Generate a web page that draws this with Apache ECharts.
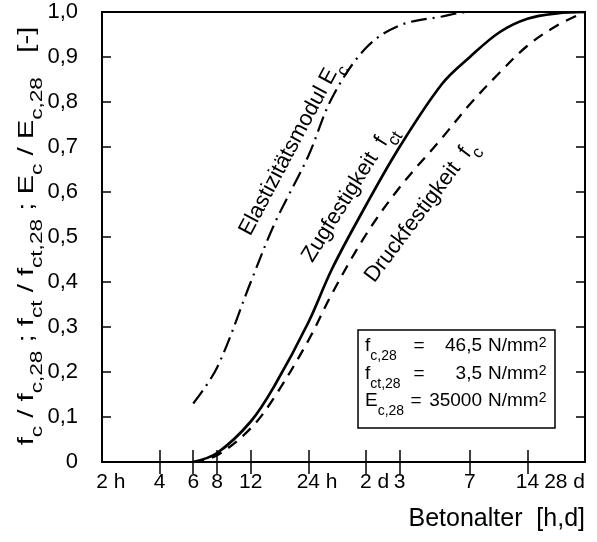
<!DOCTYPE html>
<html>
<head>
<meta charset="utf-8">
<script src="https://cdn.jsdelivr.net/npm/echarts@6/dist/echarts.min.js"></script>
<style>
html, body { margin: 0; padding: 0; background: #fff; }
#chart { width: 597px; height: 542px; }
</style>
</head>
<body>
<div id="chart"></div>
<script>
// Betonalter in Stunden (logarithmische Achse)
const ageHours = [6, 8, 12, 16, 24, 32, 48, 72, 120, 168, 240, 336, 480, 672];
// bezogene Festigkeiten / E-Modul
const fcValues  = [0, 0.015, 0.075, 0.145, 0.27, 0.375, 0.505, 0.61, 0.72, 0.795, 0.865, 0.925, 0.97, 1.0];
const fctValues = [0, 0.02, 0.09, 0.17, 0.31, 0.43, 0.57, 0.70, 0.84, 0.90, 0.955, 0.985, 0.997, 1.0];
const ecValues  = [0.13, 0.21, 0.40, 0.53, 0.68, 0.81, 0.92, 0.97, 0.99, 1.0, 1.0, 1.0, 1.0, 1.0];

// Achsenbeschriftung
const xTickValues = [2, 4, 6, 8, 12, 24, 48, 72, 168, 336, 672];
const xTickLabels = ['2 h', '4', '6', '8', '12', '24 h', '2 d', '3', '7', '14', '28 d'];
const yTickLabels = ['0', '0,1', '0,2', '0,3', '0,4', '0,5', '0,6', '0,7', '0,8', '0,9', '1,0'];

// Kennwerte im Kasten
const boxSymbols = ['f', 'f', 'E'];
const boxSubs = ['c,28', 'ct,28', 'c,28'];
const boxValues = ['46,5', '3,5', '35000'];

const FONT = '"Liberation Sans", Arial, sans-serif';

function pairs (ys) {
    return ageHours.map((h, i) => [h, ys[i]]);
}

function xLabel (v) {
    // naechsten Tickwert suchen (log-Skala liefert evtl. 5.9999)
    let best = 0;
    for (let i = 1; i < xTickValues.length; i++) {
        if (Math.abs(Math.log(xTickValues[i] / v)) < Math.abs(Math.log(xTickValues[best] / v))) best = i;
    }
    const txt = xTickLabels[best];
    const sp = txt.indexOf(' ');
    if (sp > 0 && best < xTickLabels.length - 1) {
        // Zahl mittig auf den Strich, Einheit haengt rechts dran
        return '{g|' + txt.slice(sp) + '}' + txt;
    }
    return txt;
}

// Text-Stile fuer Index / Exponent
const richStyles = {
    t: { fontFamily: FONT, fontSize: 22, lineHeight: 30, verticalAlign: 'top', color: '#000' },
    s: { fontFamily: FONT, fontSize: 17, lineHeight: 17, verticalAlign: 'bottom', color: '#000' },
    b: { fontFamily: FONT, fontSize: 19, lineHeight: 27, verticalAlign: 'top', color: '#000' },
    bs: { fontFamily: FONT, fontSize: 14, lineHeight: 14, verticalAlign: 'bottom', color: '#000' },
    p: { fontFamily: FONT, fontSize: 14, lineHeight: 14, verticalAlign: 'top', color: '#000' }
};

function label (x, y, deg, text, sx) {
    return {
        type: 'text',
        x: x,
        y: y,
        rotation: deg * Math.PI / 180,
        scaleX: sx || 1,
        style: {
            text: text,
            rich: richStyles,
            align: 'center',
            verticalAlign: 'middle',
            fill: '#000'
        },
        z: 10
    };
}

const boxLeft = 358, boxTop = 330, boxRight = 555, boxBottom = 428;
const rowY = [350, 378, 405];
const eqX = [419, 419, 416];

const graphics = [
    // Ordinatentitel (Vorlage ist in der Hoehe gestreckt)
    label(31, 236, 90, '{t|f}{s|c}{t| / f}{s|c,28}{t| ; f}{s|ct}{t| / f}{s|ct,28}{t| ; E}{s|c}{t| / E}{s|c,28}{t|   [-]}', 1.33),
    label(294, 150, 62, '{t|Elastizitätsmodul E}{s|c}'),
    label(352, 196, 58, '{t|Zugfestigkeit  f}{s|ct}'),
    label(424, 214, 53, '{t|Druckfestigkeit  f}{s|c}'),
    {
        type: 'rect',
        shape: { x: boxLeft, y: boxTop, width: boxRight - boxLeft, height: boxBottom - boxTop },
        style: { fill: '#fff', stroke: '#000', lineWidth: 1.5 },
        z: 10
    }
];
rowY.forEach((y, i) => {
    graphics.push({
        type: 'text', x: 365, y: y, z: 11,
        style: { text: '{b|' + boxSymbols[i] + '}{bs|' + boxSubs[i] + '}', rich: richStyles, align: 'left', verticalAlign: 'middle' }
    });
    graphics.push({
        type: 'text', x: eqX[i], y: y, z: 11,
        style: { text: '{b|=}', rich: richStyles, align: 'center', verticalAlign: 'middle' }
    });
    graphics.push({
        type: 'text', x: 482, y: y, z: 11,
        style: { text: '{b|' + boxValues[i] + '}', rich: richStyles, align: 'right', verticalAlign: 'middle' }
    });
    graphics.push({
        type: 'text', x: 488, y: y, z: 11,
        style: { text: '{b|N/mm}{p|2}', rich: richStyles, align: 'left', verticalAlign: 'middle' }
    });
});

const chart = echarts.init(document.getElementById('chart'), null, { renderer: 'canvas' });

const tickCommon = { show: true, inside: true, length: 12, lineStyle: { color: '#000', width: 1.5 }, customValues: xTickValues.slice(1, -1) };

chart.setOption({
    backgroundColor: '#fff',
    animation: false,
    grid: {
        left: 102, right: 12, top: 12, bottom: 80,
        show: true, borderColor: '#000', borderWidth: 2, backgroundColor: 'transparent'
    },
    xAxis: [
        {
            type: 'log', logBase: 2, min: 2, max: 672, position: 'bottom',
            name: 'Betonalter  [h,d]',
            nameLocation: 'end',
            nameGap: 0,
            nameTextStyle: { fontFamily: FONT, fontSize: 25, color: '#000', align: 'right', verticalAlign: 'top', padding: [45, 0, 0, 0] },
            axisLine: { show: false },
            axisTick: tickCommon,
            splitLine: { show: false },
            axisLabel: {
                customValues: xTickValues,
                formatter: xLabel,
                fontFamily: FONT, fontSize: 21, color: '#000', margin: 10,
                alignMaxLabel: 'right',
                rich: { g: { fontFamily: FONT, fontSize: 21, color: 'rgba(0,0,0,0)' } }
            }
        },
        {
            type: 'log', logBase: 2, min: 2, max: 672, position: 'top',
            axisLine: { show: false },
            axisTick: tickCommon,
            axisLabel: { show: false },
            splitLine: { show: false }
        }
    ],
    yAxis: [
        {
            type: 'value', min: 0, max: 1, interval: 0.1, position: 'left',
            axisLine: { show: false },
            axisTick: { show: true, inside: true, length: 9, lineStyle: { color: '#000', width: 1.5 } },
            splitLine: { show: false },
            axisLabel: {
                formatter: (v) => yTickLabels[Math.round(v * 10)],
                fontFamily: FONT, fontSize: 22, color: '#000', margin: 24
            }
        },
        {
            type: 'value', min: 0, max: 1, interval: 0.1, position: 'right',
            axisLine: { show: false },
            axisTick: { show: true, inside: true, length: 9, lineStyle: { color: '#000', width: 1.5 } },
            axisLabel: { show: false },
            splitLine: { show: false }
        }
    ],
    series: [
        {
            name: 'Druckfestigkeit', type: 'line', data: pairs(fcValues),
            smooth: 0.35, showSymbol: false, clip: true,
            lineStyle: { color: '#000', width: 2.3, type: [11, 8] }
        },
        {
            name: 'Zugfestigkeit', type: 'line', data: pairs(fctValues),
            smooth: 0.35, showSymbol: false, clip: true,
            lineStyle: { color: '#000', width: 2.7, type: 'solid' }
        },
        {
            name: 'E-Modul', type: 'line', data: pairs(ecValues),
            smooth: 0.35, showSymbol: false, clip: true,
            lineStyle: { color: '#000', width: 2.2, type: [16, 6, 2, 6] }
        }
    ],
    graphic: graphics
});

window.addEventListener('resize', function () {
    chart.resize();
});
</script>
</body>
</html>
